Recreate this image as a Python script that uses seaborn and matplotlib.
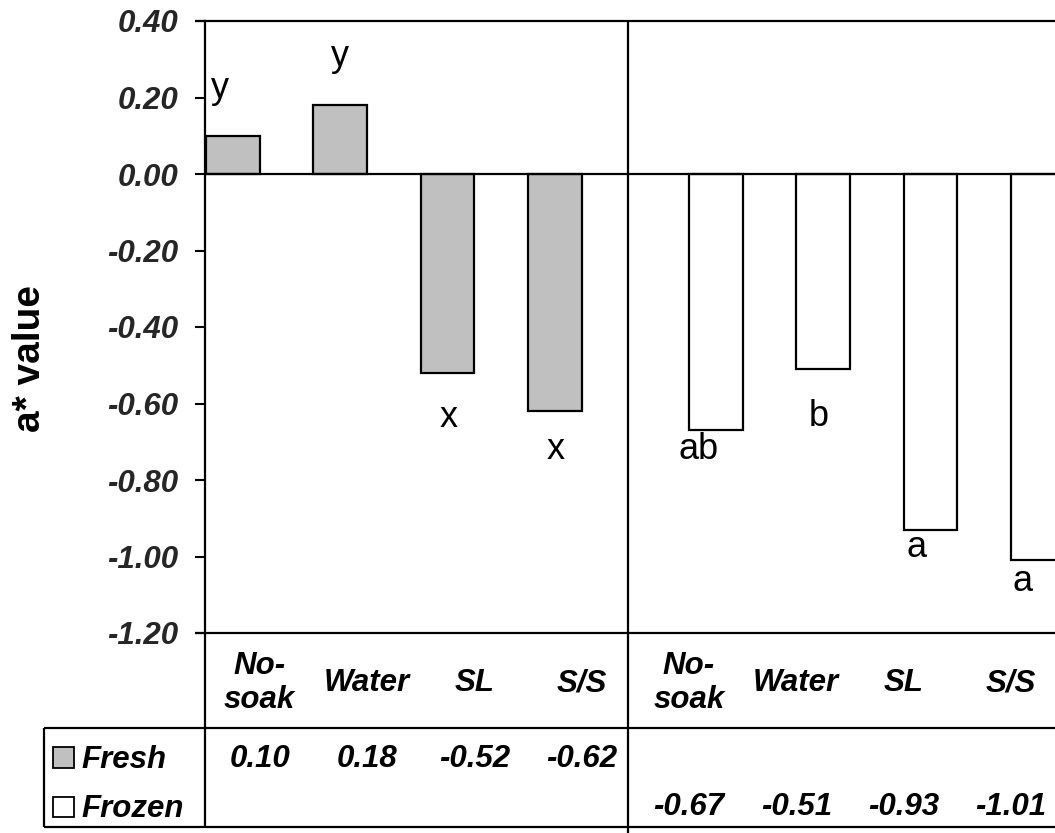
import matplotlib
matplotlib.use("Agg")
import matplotlib.pyplot as plt
from matplotlib.lines import Line2D
from matplotlib.patches import Rectangle
from matplotlib.transforms import blended_transform_factory
import pandas as pd
import seaborn as sns

# ---- data ----
treatments = ["No-\nsoak", "Water", "SL", "S/S"]
states = ["Fresh", "Frozen"]
fresh_values = [0.10, 0.18, -0.52, -0.62]
frozen_values = [-0.67, -0.51, -0.93, -1.01]
fresh_letters = ["y", "y", "x", "x"]
frozen_letters = ["ab", "b", "a", "a"]
y_ticks = [0.40, 0.20, 0.00, -0.20, -0.40, -0.60, -0.80, -1.00, -1.20]

slots = [f"{s} {t}" for s in states for t in treatments]
df = pd.DataFrame({
    "slot": slots,
    "state": ["Fresh"] * 4 + ["Frozen"] * 4,
    "a_value": fresh_values + frozen_values,
})

# ---- styling ----
sns.set_theme(style="white")
plt.rcParams["font.family"] = ["Liberation Sans", "DejaVu Sans"]
plt.rcParams["axes.unicode_minus"] = False

W, H = 1055, 833
fig = plt.figure(figsize=(W / 100, H / 100), dpi=100)


def fx(px):
    return px / W


def fy(py):
    return 1 - py / H


ax_left, ax_top, ax_bottom = 205, 21, 633
pitch = 107.3
ax_right = ax_left + 8 * pitch
ax = fig.add_axes([fx(ax_left), fy(ax_bottom), fx(ax_right) - fx(ax_left),
                   fy(ax_top) - fy(ax_bottom)])

sns.barplot(data=df, x="slot", y="a_value", hue="state", order=slots,
            hue_order=states, palette={"Fresh": "#C0C0C0", "Frozen": "white"},
            width=1.0, dodge=True, saturation=1, edgecolor="black",
            linewidth=1.6, errorbar=None, legend=False, ax=ax)

ax.set_xlim(-0.51, 7.49)
ax.set_ylim(-1.20, 0.40)
ax.set_yticks(y_ticks)
ax.set_yticklabels([f"{v:.2f}" for v in y_ticks], fontsize=22.5,
                   fontweight="bold", fontstyle="italic")
ax.tick_params(axis="y", direction="out", length=7.2, width=1.5,
               color="black", pad=12, left=True)
ax.set_xticks([])
ax.set_xlabel("")
ax.set_ylabel("")
for side in ["left", "top", "bottom"]:
    ax.spines[side].set_visible(True)
    ax.spines[side].set_color("black")
    ax.spines[side].set_linewidth(1.6)
ax.spines["right"].set_visible(False)
ax.axhline(0, color="black", lw=1.6, zorder=3)

# significance letters next to each bar
fresh_offsets = [(-13, 38), (0, 39), (1, -54), (1, -48)]
frozen_offsets = [(-17, -29), (-4, -57), (-14, -27), (-15, -31)]
for cont, vals, letters, offs in [
    (ax.containers[0], fresh_values, fresh_letters, fresh_offsets),
    (ax.containers[1], frozen_values, frozen_letters, frozen_offsets),
]:
    for bar, v, lt, (dx, dy) in zip(cont, vals, letters, offs):
        xc = bar.get_x() + bar.get_width() / 2
        ax.annotate(lt, xy=(xc, v), xytext=(dx, dy),
                    textcoords="offset pixels", ha="center", va="baseline",
                    fontsize=26, color="black", annotation_clip=False)

# category row and data table below the plot
xtrans = blended_transform_factory(ax.transData, fig.transFigure)
bi = dict(fontsize=22.5, fontweight="bold", fontstyle="italic", color="black")
for i, t in enumerate(treatments * 2):
    ax.text(i, fy(683), t, transform=xtrans, ha="center", va="center",
            linespacing=1.15, **bi)
for i, v in enumerate(fresh_values):
    ax.text(i, fy(767), f"{v:.2f}", transform=xtrans, ha="center",
            va="baseline", **bi)
for i, v in enumerate(frozen_values):
    ax.text(i + 4, fy(815), f"{v:.2f}", transform=xtrans, ha="center",
            va="baseline", **bi)

# legend keys in the table's row headers
fig.add_artist(Rectangle((fx(53), fy(768)), fx(21), fy(747) - fy(768),
                         transform=fig.transFigure, facecolor="#C0C0C0",
                         edgecolor="black", lw=1.3))
fig.add_artist(Rectangle((fx(53), fy(817)), fx(21), fy(797) - fy(817),
                         transform=fig.transFigure, facecolor="white",
                         edgecolor="black", lw=1.3))
fig.text(fx(81), fy(768), "Fresh", ha="left", va="baseline", **bi)
fig.text(fx(81), fy(817), "Frozen", ha="left", va="baseline", **bi)

# table grid lines
grid = [
    ((205, 205), (633, 828)),
    ((44, W + 5), (728, 728)),
    ((44, W + 5), (827, 827)),
    ((44, 44), (728, 827)),
    ((628, 628), (ax_top, H + 5)),
    ((195, 205), (ax_top, ax_top)),
    ((195, 205), (ax_bottom, ax_bottom)),
]
for xs, ys in grid:
    fig.add_artist(Line2D([fx(x) for x in xs], [fy(y) for y in ys],
                          transform=fig.transFigure, color="black", lw=1.6,
                          solid_capstyle="butt"))

fig.text(fx(30), fy(358), "a* value", rotation=90, ha="center", va="center",
         fontsize=28, fontweight="bold", color="black")

fig.savefig("out.png", dpi=100)
